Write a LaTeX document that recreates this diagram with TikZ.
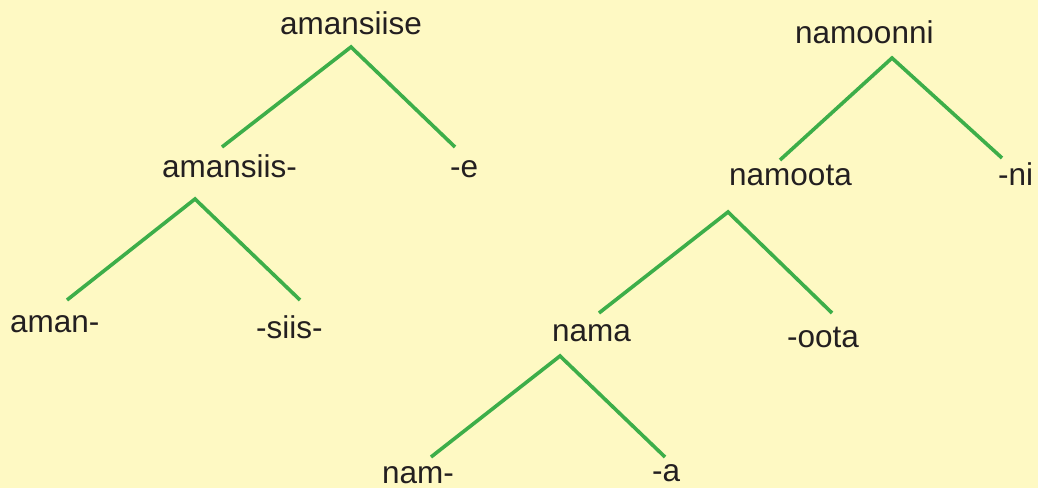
\documentclass[tikz,border=0pt]{standalone}
\usepackage{fontspec}
\setmainfont{Liberation Sans}
\definecolor{bg}{HTML}{FEF9C3}
\definecolor{branch}{HTML}{3DAE49}
\definecolor{ink}{HTML}{231F20}
\begin{document}
\begin{tikzpicture}[x=1pt,y=-1pt,
  word/.style={anchor=base west,inner sep=0pt,text=ink,font=\fontsize{31.5pt}{36pt}\selectfont},
  branchline/.style={draw=branch,line width=3.6pt}]
\fill[bg] (0,0) rectangle (1038,488);
\useasboundingbox (0,0) rectangle (1038,488);
% left tree
\node[word] (amansiise) at (280,34) {amansiise};
\node[word] (amansiis) at (162,177) {amansiis-};
\node[word] (e) at (450,177) {-e};
\node[word] (aman) at (10,332) {aman-};
\node[word] (siis) at (256,338) {-siis-};
\coordinate (t1) at (351,47);
\coordinate (t1l) at (222,147);
\coordinate (t1r) at (455,147);
\coordinate (t2) at (195,199);
\coordinate (t2l) at (67,300);
\coordinate (t2r) at (300,300);
\draw[branchline] (t1l) -- (t1) -- (t1r);
\draw[branchline] (t2l) -- (t2) -- (t2r);
% right tree
\node[word] (namoonni) at (795,43) {namoonni};
\node[word] (namoota) at (729,185) {namoota};
\node[word] (ni) at (998,185) {-ni};
\node[word] (nama) at (552,341) {nama};
\node[word] (oota) at (787,347) {-oota};
\node[word] (nam) at (382,483) {nam-};
\node[word] (a) at (652,481) {-a};
\coordinate (t3) at (892,58);
\coordinate (t3l) at (780,160);
\coordinate (t3r) at (1002,158);
\coordinate (t4) at (728,212);
\coordinate (t4l) at (599,313);
\coordinate (t4r) at (832,313);
\coordinate (t5) at (560,356);
\coordinate (t5l) at (431,457);
\coordinate (t5r) at (665,457);
\draw[branchline] (t3l) -- (t3) -- (t3r);
\draw[branchline] (t4l) -- (t4) -- (t4r);
\draw[branchline] (t5l) -- (t5) -- (t5r);
\end{tikzpicture}
\end{document}
